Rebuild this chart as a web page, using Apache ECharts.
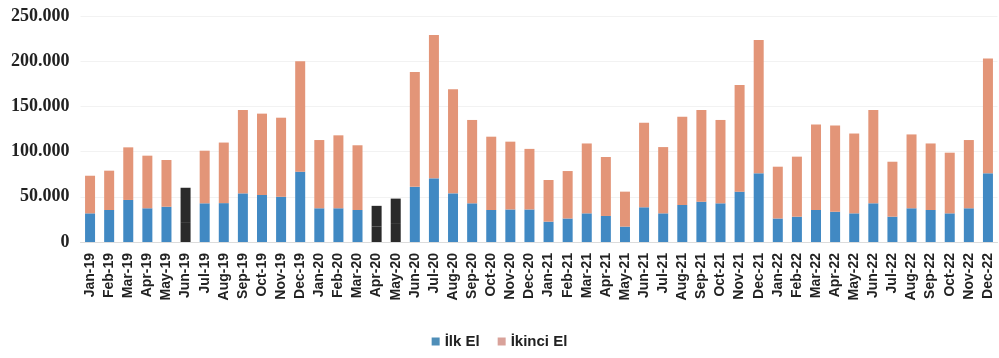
<!DOCTYPE html>
<html>
<head>
<meta charset="utf-8">
<script src="https://cdn.jsdelivr.net/npm/echarts@6/dist/echarts.min.js"></script>
<style>
  html, body { margin: 0; padding: 0; background: #fff; }
  #chart { width: 999px; height: 358px; }
</style>
</head>
<body>
<div id="chart"></div>
<script>
// Monthly house sales, first-hand (İlk El) vs second-hand (İkinci El)
const months = [
  'Jan-19','Feb-19','Mar-19','Apr-19','May-19','Jun-19','Jul-19','Aug-19','Sep-19','Oct-19','Nov-19','Dec-19',
  'Jan-20','Feb-20','Mar-20','Apr-20','May-20','Jun-20','Jul-20','Aug-20','Sep-20','Oct-20','Nov-20','Dec-20',
  'Jan-21','Feb-21','Mar-21','Apr-21','May-21','Jun-21','Jul-21','Aug-21','Sep-21','Oct-21','Nov-21','Dec-21',
  'Jan-22','Feb-22','Mar-22','Apr-22','May-22','Jun-22','Jul-22','Aug-22','Sep-22','Oct-22','Nov-22','Dec-22'
];

const ilkEl = [
  31700, 35400, 46500, 37300, 39000, 22000, 42800, 43000, 53800, 52000, 50000, 77800,
  37300, 37300, 35400, 17000, 20000, 61000, 70400, 53800, 42800, 35400, 36000, 36000,
  22500, 26000, 31700, 28800, 17000, 38400, 31700, 41000, 44600, 42800, 55700, 76000,
  26000, 28000, 35400, 33500, 31700, 42800, 28000, 37300, 35400, 31700, 37300, 76000
];

const ikinciEl = [
  41600, 43500, 58200, 58200, 51700, 38000, 58200, 67000, 92200, 90000, 87500, 122200,
  75500, 80700, 71600, 23000, 28000, 127000, 158600, 115200, 92200, 81100, 75000, 67000,
  46100, 52500, 77300, 65200, 38700, 93600, 73300, 97600, 101400, 92200, 118000, 147500,
  57300, 66400, 94600, 95500, 88300, 103200, 60800, 81700, 73600, 67100, 75500, 127000
];

// Months whose bars are printed solid dark
const darkMonths = ['Jun-19', 'Apr-20', 'May-20'];

const yTicks = [0, 50000, 100000, 150000, 200000, 250000];

const BLUE = '#4189c3';
const ORANGE = '#e39578';
const DARK = '#2a2a2a';

function paint(values, base) {
  return values.map((v, i) => darkMonths.includes(months[i])
    ? { value: v, itemStyle: { color: DARK } }
    : { value: v, itemStyle: { color: base } });
}

const chart = echarts.init(document.getElementById('chart'), null, { renderer: 'canvas' });

chart.setOption({
  animation: false,
  backgroundColor: '#ffffff',
  grid: { left: 80.5, right: 1.5, top: 16, bottom: 116 },
  legend: {
    bottom: 4,
    left: 'center',
    itemWidth: 8,
    itemHeight: 8,
    itemGap: 18,
    icon: 'rect',
    textStyle: { fontFamily: 'Liberation Sans', fontWeight: 'bold', fontSize: 15, color: '#222' },
    data: [
      { name: 'İlk El', itemStyle: { color: '#4f8eb8' } },
      { name: 'İkinci El', itemStyle: { color: '#d9a29a' } }
    ]
  },
  xAxis: {
    type: 'category',
    data: months,
    axisLine: { show: true, lineStyle: { color: '#dcdcdc' } },
    axisTick: { show: false },
    axisLabel: {
      interval: 0,
      rotate: 90,
      margin: 11,
      fontFamily: 'Liberation Sans',
      fontWeight: 'bold',
      fontSize: 14,
      color: '#222'
    }
  },
  yAxis: {
    type: 'value',
    min: yTicks[0],
    max: yTicks[yTicks.length - 1],
    interval: yTicks[1] - yTicks[0],
    splitLine: { show: true, lineStyle: { color: '#f2f2f2' } },
    axisLine: { show: false },
    axisTick: { show: false },
    axisLabel: {
      margin: 11,
      fontFamily: 'Liberation Serif',
      fontWeight: 'bold',
      fontSize: 18,
      color: '#222',
      formatter: v => v === 0 ? '0' : String(v).replace(/\B(?=(\d{3})+(?!\d))/g, '.')
    }
  },
  series: [
    {
      name: 'İlk El',
      type: 'bar',
      stack: 'total',
      barWidth: 10,
      itemStyle: { color: BLUE },
      data: paint(ilkEl, BLUE)
    },
    {
      name: 'İkinci El',
      type: 'bar',
      stack: 'total',
      barWidth: 10,
      itemStyle: { color: ORANGE },
      data: paint(ikinciEl, ORANGE)
    }
  ]
});
</script>
</body>
</html>
